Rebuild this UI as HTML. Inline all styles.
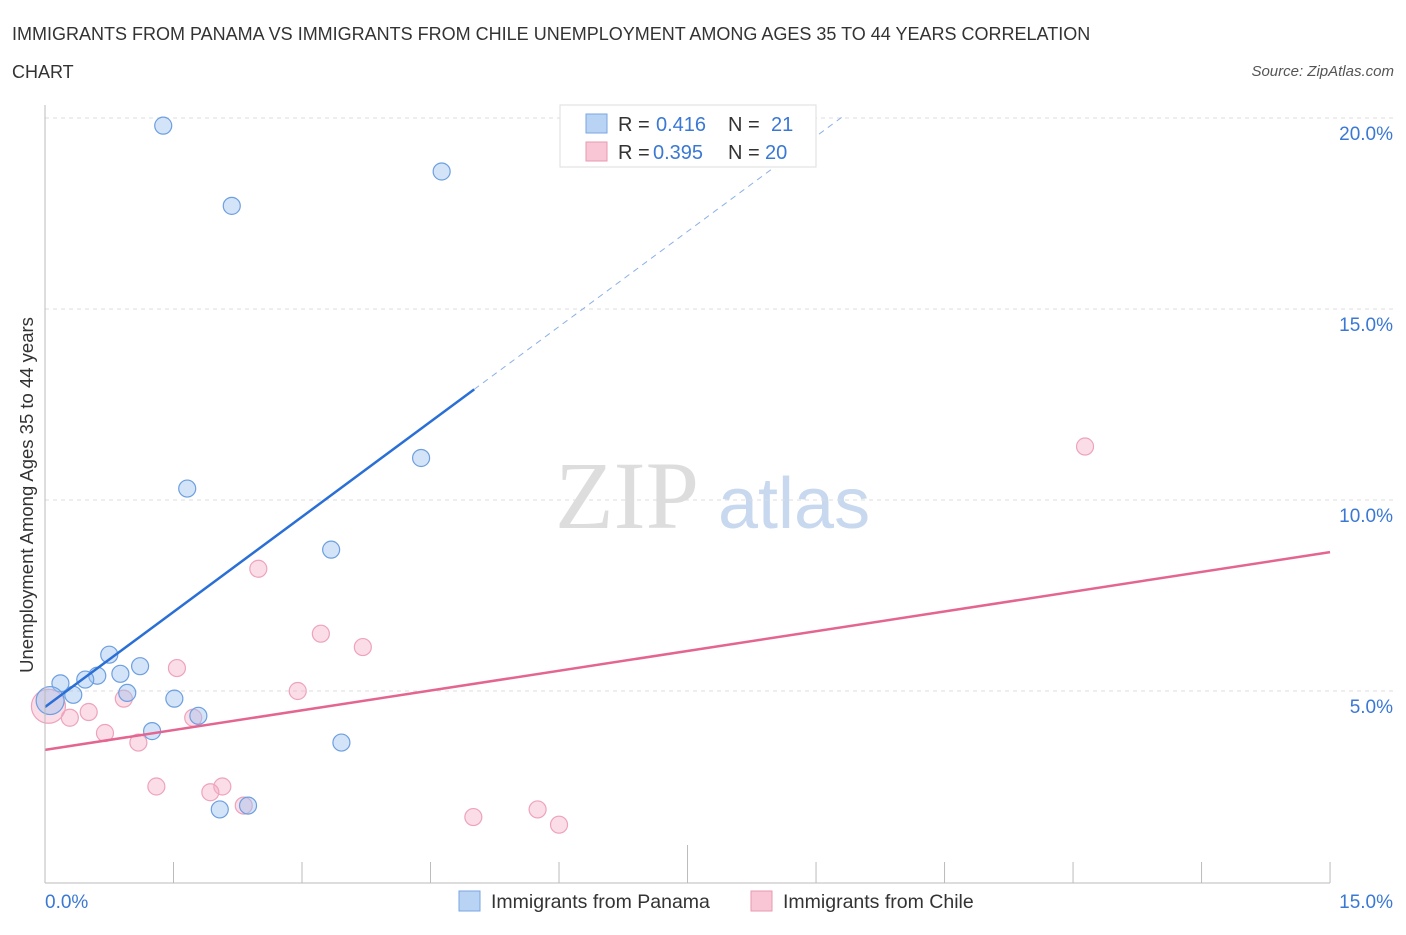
<!DOCTYPE html>
<html><head><meta charset="utf-8"><style>
body{margin:0;background:#fff;font-family:"Liberation Sans",sans-serif;}
svg text{font-family:"Liberation Sans",sans-serif;}
</style></head><body>
<svg width="1406" height="930" id="c">
<text x="12" y="40" font-size="18" fill="#333">IMMIGRANTS FROM PANAMA VS IMMIGRANTS FROM CHILE UNEMPLOYMENT AMONG AGES 35 TO 44 YEARS CORRELATION</text>
<text x="12" y="78" font-size="18" fill="#333">CHART</text>
<text x="1394" y="76" font-size="15" font-style="italic" fill="#555" text-anchor="end">Source: ZipAtlas.com</text>
<text x="33" y="495" font-size="18.5" fill="#333" text-anchor="middle" transform="rotate(-90 33 495)">Unemployment Among Ages 35 to 44 years</text>
<text x="555" y="528" font-size="96" fill="#ddd" style="font-family:'Liberation Serif',serif">ZIP</text>
<text x="718" y="528" font-size="72" fill="#c8d8ee">atlas</text>
<g id="grid"></g><g id="pts"></g><g id="trend"></g>
<line x1="45" y1="105" x2="45" y2="883" stroke="#bbb"/>
<line x1="45" y1="883" x2="1330" y2="883" stroke="#bbb"/>
<text x="45" y="908" font-size="19" fill="#3a78d4">0.0%</text>
<text x="1393" y="908" font-size="19" fill="#3a78d4" text-anchor="end">15.0%</text>
<g>
<rect x="560" y="105" width="256" height="62" fill="#fff" stroke="#ddd"/>
<rect x="586" y="114" width="21" height="19" fill="#b9d3f5" stroke="#7aa6e0"/>
<rect x="586" y="142" width="21" height="19" fill="#f8c6d5" stroke="#e99ab2"/>
<text x="618" y="131" font-size="20" fill="#333">R =<tspan fill="#3a78d4" x="656">0.416</tspan><tspan x="728">N =</tspan><tspan fill="#3a78d4" x="771">21</tspan></text>
<text x="618" y="159" font-size="20" fill="#333">R =<tspan fill="#3a78d4" x="653">0.395</tspan><tspan x="728">N =</tspan><tspan fill="#3a78d4" x="765">20</tspan></text>
</g>
<g><rect x="459" y="891" width="21" height="20" fill="#b9d3f5" stroke="#7aa6e0"/><text x="491" y="908" font-size="19.5" fill="#333">Immigrants from Panama</text></g>
<g><rect x="751" y="891" width="21" height="20" fill="#f8c6d5" stroke="#e99ab2"/><text x="783" y="908" font-size="19.5" fill="#333">Immigrants from Chile</text></g>
</svg>
<script>
const panamaX=[1.38,2.18,4.63,4.39,1.66,3.34,0.75,1.11,0.61,0.88,0.47,0.18,0.33,0.96,1.51,1.79,1.25,3.46,2.04,2.37,0.06];
const panamaY=[19.8,17.7,18.6,11.1,10.3,8.7,5.95,5.65,5.4,5.45,5.3,5.2,4.9,4.95,4.8,4.35,3.95,3.65,1.9,2.0,4.75];
const chileX=[12.14,2.49,3.22,3.71,1.54,2.95,0.92,0.51,0.29,1.73,0.7,1.09,1.3,2.07,1.93,2.32,5.0,5.75,6.0,0.04];
const chileY=[11.4,8.2,6.5,6.15,5.6,5.0,4.8,4.45,4.3,4.3,3.9,3.65,2.5,2.5,2.35,2.0,1.7,1.9,1.5,4.6];
const yTicks=[5,10,15,20];
const trendP=[4.58,1.66]; const trendC=[3.46,0.345];
const X=v=>45+v*85.67, Y=v=>882-v*38.2;
const ns="http://www.w3.org/2000/svg";
function mk(t,a,p){const e=document.createElementNS(ns,t);for(const k in a)e.setAttribute(k,a[k]);document.getElementById(p).appendChild(e);return e;}
yTicks.forEach(t=>{
 const l=mk('line',{x1:45,x2:1395,y1:Y(t),y2:Y(t),stroke:'#ddd','stroke-dasharray':'4,4'},'grid');
 
 
 const tx=mk('text',{x:1393,y:Y(t)+22,'font-size':19,fill:'#3a78d4','text-anchor':'end'},'grid');tx.textContent=t.toFixed(1)+'%';
 
 
});
for(let i=0;i<=10;i++){const v=i*1.5;
 const l=mk('line',{x1:X(v),x2:X(v),y1:i==5?845:862,y2:883,stroke:'#bbb'},'grid');
 
 }
chileX.forEach((x,i)=>{const big=i==chileX.length-1;
 const c=mk('circle',{cx:X(x),cy:Y(chileY[i]),r:big?17:8.5,fill:'rgba(246,170,195,0.4)',stroke:'#eea3bb','stroke-width':1.2},'pts');
 
 });
panamaX.forEach((x,i)=>{const big=i==panamaX.length-1;
 const c=mk('circle',{cx:X(x),cy:Y(panamaY[i]),r:big?14:8.5,fill:'rgba(160,195,240,0.45)',stroke:'#6d9fe0','stroke-width':1.2},'pts');
 
 });
let l=mk('line',{x1:X(0),y1:Y(trendP[0]),x2:X(5.01),y2:Y(trendP[0]+trendP[1]*5.01),stroke:'#2a6fd6','stroke-width':2.5},'trend');


l=mk('line',{x1:X(5.01),y1:Y(trendP[0]+trendP[1]*5.01),x2:X(9.34),y2:Y(trendP[0]+trendP[1]*9.34),stroke:'#8ab0e6','stroke-width':1,'stroke-dasharray':'6,5'},'trend');


l=mk('line',{x1:X(0),y1:Y(trendC[0]),x2:X(15),y2:Y(trendC[0]+trendC[1]*15),stroke:'#e4658f','stroke-width':2.5},'trend');


</script>
</body></html>
